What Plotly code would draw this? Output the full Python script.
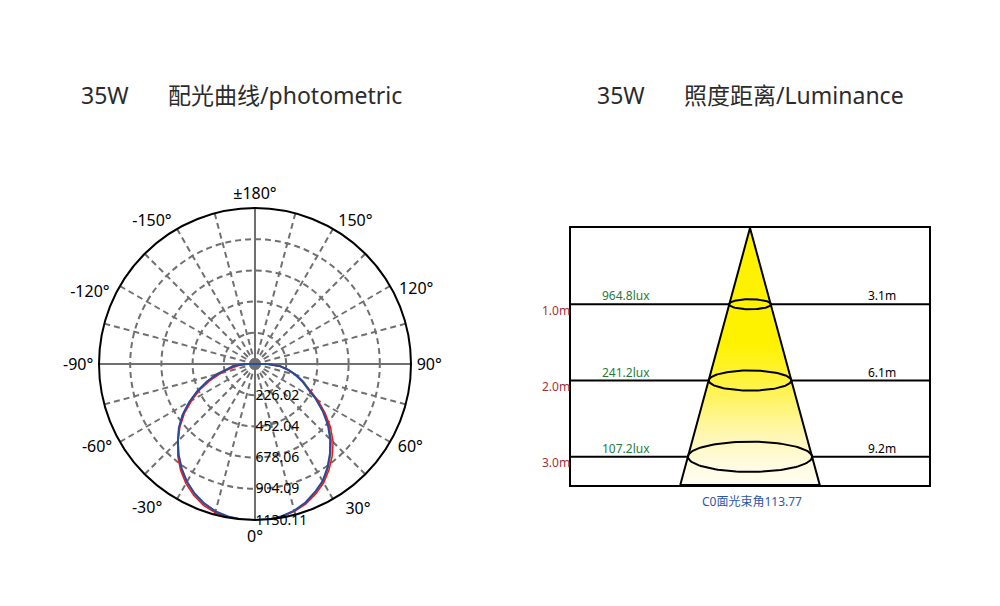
import numpy as np
import plotly.graph_objects as go

# ---------------- Data ----------------
# Photometric (polar) data, candela, angles -90..90 step 5
gamma = list(range(-90, 95, 5))
c0_cd = [80, 160, 200, 285, 370, 460, 550, 640, 720, 790, 860, 925, 985, 1035, 1075, 1105, 1122, 1130,
         1130,
         1130, 1120, 1100, 1068, 1025, 980, 915, 845, 770, 690, 600, 510, 420, 365, 305, 245, 185, 90]
c90_cd = [40, 120, 175, 255, 345, 440, 530, 625, 710, 790, 870, 940, 1000, 1050, 1090, 1115, 1128, 1132,
          1130,
          1130, 1122, 1105, 1078, 1040, 995, 935, 870, 800, 715, 620, 525, 430, 360, 300, 240, 180, 80]
c45_cd = [70, 150, 195, 280, 368, 458, 548, 638, 718, 790, 862, 928, 988, 1037, 1077, 1106, 1123, 1130,
          1130,
          1130, 1121, 1102, 1072, 1030, 985, 922, 852, 780, 700, 612, 522, 432, 375, 312, 248, 186, 88]
radial_ticks = [226.02, 452.04, 678.06, 904.09, 1130.11]
grid_angles = list(range(0, 360, 15))
label_angles = [0, 30, 60, 90, 120, 150, 180, 210, 240, 270, 300, 330]
label_texts = ["0°", "30°", "60°", "90°", "120°", "150°", "±180°", "-150°", "-120°", "-90°", "-60°", "-30°"]
# small angular nudge of the labels toward the horizontal axis (as in the original drawing)
label_nudge = [0, 4, 2, 0, -3, -1, 0, 1, 4, 0, -2, -5]

# Illuminance vs distance data
distances = [1.0, 2.0, 3.0]
lux = [964.8, 241.2, 107.2]
diameters = [3.1, 6.1, 9.2]
beam_angle = 113.77
depth_max = 3.37
width_half = 13.26
ellipse_ratio = 0.066

TITLE_COLOR = "#2b2b2b"
GRID = "#707070"

fig = go.Figure()

# pad beyond +-90 with zero intensity
full_theta = list(range(-180, -90, 5)) + gamma + list(range(95, 185, 5))
def pad(v):
    return [0] * len(range(-180, -90, 5)) + v + [0] * len(range(95, 185, 5))

r_max = radial_ticks[-1]
# solid cross lines
fig.add_trace(go.Scatterpolar(r=[r_max, 0, r_max], theta=[0, 0, 180], mode="lines",
                              line=dict(color=GRID, width=2), hoverinfo="skip", showlegend=False))
fig.add_trace(go.Scatterpolar(r=[r_max, 0, r_max], theta=[90, 90, 270], mode="lines",
                              line=dict(color=GRID, width=2), hoverinfo="skip", showlegend=False))
fig.add_trace(go.Scatterpolar(r=[0], theta=[0], mode="markers",
                              marker=dict(color=GRID, size=8), hoverinfo="skip", showlegend=False))

fig.add_trace(go.Scatterpolar(r=pad(c45_cd), theta=full_theta, mode="lines",
                              line=dict(color="#2e8b3a", width=1.5), showlegend=False))
fig.add_trace(go.Scatterpolar(r=pad(c90_cd), theta=full_theta, mode="lines",
                              line=dict(color="#ff1010", width=1.5), showlegend=False))
fig.add_trace(go.Scatterpolar(r=pad(c0_cd), theta=full_theta, mode="lines",
                              line=dict(color="#2a4a9c", width=2), showlegend=False))
# invisible trace so the label-only overlay subplot renders
fig.add_trace(go.Scatterpolar(r=[0], theta=[0], mode="markers", marker=dict(opacity=0),
                              hoverinfo="skip", showlegend=False, subplot="polar2"))

# ---------------- Luminance chart ----------------
t = np.tan(np.radians(beam_angle / 2))
edge_half = depth_max * t
fig.add_trace(go.Scatter(x=[-edge_half, 0, edge_half, -edge_half], y=[depth_max, 0, depth_max, depth_max],
                         mode="lines", line=dict(color="black", width=2), fill="toself",
                         fillgradient=dict(type="vertical",
                                           colorscale=[[0, "#fffdf2"], [0.08, "#fffbe0"], [0.2, "#fff7b0"],
                                                       [0.38, "#fff34a"], [0.55, "#fff200"], [1, "#fff200"]]),
                         hoverinfo="skip", showlegend=False, xaxis="x", yaxis="y"))

# horizontal level lines (outside the cone) and beam ellipses
for d, dia in zip(distances, diameters):
    h = d * t
    fig.add_trace(go.Scatter(x=[-width_half, -h, None, h, width_half], y=[d, d, None, d, d], mode="lines",
                             line=dict(color="black", width=2), hoverinfo="skip", showlegend=False))
    ph = np.linspace(0, 2 * np.pi, 120)
    fig.add_trace(go.Scatter(x=dia / 2 * np.cos(ph), y=d + d * ellipse_ratio * np.sin(ph), mode="lines",
                             line=dict(color="black", width=2), hoverinfo="skip", showlegend=False))

annotations = []
for d, lx, dia in zip(distances, lux, diameters):
    annotations.append(dict(xref="x domain", yref="y", x=0.08, y=d, text=f"{lx}lux", showarrow=False,
                            xanchor="left", yanchor="bottom", yshift=-2,
                            font=dict(color="#1e7d3c", size=12)))
    annotations.append(dict(xref="x domain", yref="y", x=0.825, y=d, text=f"{dia}m", showarrow=False,
                            xanchor="left", yanchor="bottom", yshift=-2,
                            font=dict(color="black", size=12)))
    annotations.append(dict(xref="x domain", yref="y", x=0, y=d, text=f"{d:.1f}m", showarrow=False,
                            xanchor="right", yanchor="middle", yshift=-6, xshift=1,
                            font=dict(color="#a83232", size=12)))
annotations.append(dict(xref="x domain", yref="y domain", x=0.506, y=0, text=f"C0面光束角{beam_angle}",
                        showarrow=False, xanchor="center", yanchor="top", yshift=-6,
                        font=dict(color="#2b58a8", size=12)))

# titles
for x0, x1, txt in [(79, 166, "配光曲线/photometric"), (595, 682, "照度距离/Luminance")]:
    annotations.append(dict(xref="paper", yref="paper", x=x0 / 1000, y=(606 - 95) / 606, text="35W",
                            showarrow=False, xanchor="left", yanchor="middle",
                            font=dict(color=TITLE_COLOR, size=23)))
    annotations.append(dict(xref="paper", yref="paper", x=x1 / 1000, y=(606 - 95) / 606, text=txt,
                            showarrow=False, xanchor="left", yanchor="middle",
                            font=dict(color=TITLE_COLOR, size=23)))

polar_domain = dict(x=[0.099, 0.411], y=[86 / 606, 398 / 606])
fig.update_layout(
    width=1000, height=606, margin=dict(l=0, r=0, t=0, b=0),
    paper_bgcolor="white", plot_bgcolor="white",
    font=dict(family="Noto Sans, Noto Sans CJK SC, sans-serif", color="black"),
    polar=dict(
        domain=polar_domain,
        bgcolor="white",
        angularaxis=dict(rotation=270, direction="counterclockwise", tickmode="array",
                         tickvals=grid_angles, showticklabels=False,
                         showline=True, linecolor="black", linewidth=2, ticks="",
                         showgrid=True, gridcolor=GRID, gridwidth=2, griddash="6px,4px"),
        radialaxis=dict(range=[0, r_max], tickmode="array", tickvals=radial_ticks, angle=270,
                        side="counterclockwise",
                        ticktext=[f"{v:.2f}" for v in radial_ticks], showline=False, ticks="",
                        showgrid=True, gridcolor=GRID, gridwidth=2, griddash="6px,4px",
                        tickangle=-90, tickfont=dict(size=14, color="black")),
    ),
    polar2=dict(
        domain=polar_domain,
        bgcolor="rgba(0,0,0,0)",
        angularaxis=dict(rotation=270, direction="counterclockwise", tickmode="array",
                         tickvals=[a + n for a, n in zip(label_angles, label_nudge)], ticktext=label_texts,
                         showline=False, showgrid=False, ticks="outside", ticklen=2,
                         tickcolor="rgba(0,0,0,0)",
                         tickfont=dict(size=16, color="black")),
        radialaxis=dict(visible=False, range=[0, r_max]),
    ),
    xaxis=dict(domain=[0.571, 0.929], range=[-width_half, width_half], showline=True, mirror=True,
               linecolor="black", linewidth=2, showgrid=False, zeroline=False, showticklabels=False,
               ticks="", fixedrange=True),
    yaxis=dict(domain=[121 / 606, 378 / 606], range=[depth_max, 0], showline=True, mirror=True,
               linecolor="black", linewidth=2, showgrid=False, zeroline=False, showticklabels=False,
               ticks="", fixedrange=True),
    annotations=annotations,
)

fig.write_html("out.html")
